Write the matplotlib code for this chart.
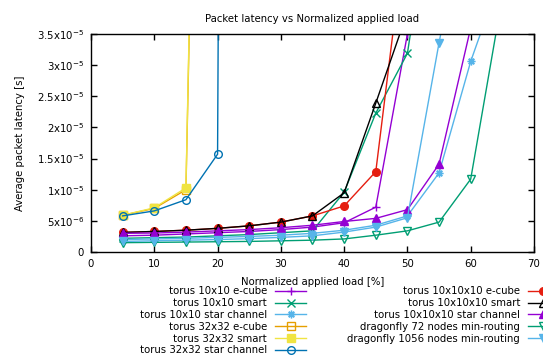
import matplotlib
matplotlib.use('Agg')
import matplotlib.pyplot as plt
from matplotlib.ticker import FixedLocator, FuncFormatter

# load values [%]
load = [5, 10, 15, 20, 25, 30, 35, 40, 45, 50, 55, 60, 65]

# latencies in units of 1e-6 s
t10_ecube = [2.6, 2.7, 2.9, 3.1, 3.3, 3.6, 4.0, 4.7, 7.2, 35.0, 80.0]
t10_smart = [2.2, 2.3, 2.4, 2.6, 2.8, 3.1, 3.4, 9.6, 22.3, 31.9, 65.0]
t10_star = [2.0, 2.1, 2.2, 2.35, 2.5, 2.7, 3.0, 3.5, 4.3, 5.8, 12.7, 30.6, 45.0]
t32_ecube = [5.9, 7.0, 10.0, 250.0]
t32_smart = [5.9, 7.1, 10.3, 260.0]
t32_star = [5.8, 6.6, 8.4, 15.7, 1000.0]
t1000_ecube = [3.15, 3.3, 3.5, 3.8, 4.2, 4.8, 5.8, 7.4, 12.9, 54.0]
t1000_smart = [3.15, 3.3, 3.5, 3.8, 4.2, 4.8, 5.8, 9.5, 23.9, 38.5]
t1000_star = [3.0, 3.05, 3.2, 3.4, 3.6, 3.9, 4.3, 4.9, 5.4, 6.8, 14.1, 36.0]
dfly72 = [1.5, 1.55, 1.6, 1.65, 1.7, 1.8, 1.9, 2.1, 2.7, 3.4, 4.8, 11.7, 41.0]
dfly1056 = [1.7, 1.8, 1.9, 2.0, 2.15, 2.35, 2.6, 3.2, 4.0, 5.5, 33.6, 60.0]

asterisk = (8, 2, 0)
series = [
    ('torus 10x10 e-cube', t10_ecube, '#9400d3', '+', 'full'),
    ('torus 10x10 smart', t10_smart, '#009e73', 'x', 'full'),
    ('torus 10x10 star channel', t10_star, '#56b4e9', asterisk, 'full'),
    ('torus 32x32 e-cube', t32_ecube, '#e69f00', 's', 'none'),
    ('torus 32x32 smart', t32_smart, '#f0e442', 's', 'full'),
    ('torus 32x32 star channel', t32_star, '#0072b2', 'o', 'none'),
    ('torus 10x10x10 e-cube', t1000_ecube, '#e51e10', 'o', 'full'),
    ('torus 10x10x10 smart', t1000_smart, 'black', '^', 'none'),
    ('torus 10x10x10 star channel', t1000_star, '#9400d3', '^', 'full'),
    ('dragonfly 72 nodes min-routing', dfly72, '#009e73', 'v', 'none'),
    ('dragonfly 1056 nodes min-routing', dfly1056, '#56b4e9', 'v', 'full'),
]

plt.rcParams['font.family'] = 'DejaVu Sans'
fs = 7.3

fig = plt.figure(figsize=(5.43, 3.61), dpi=100)
ax = fig.add_axes([0.1676, 0.3019, 0.8158, 0.6039])

for name, vals, col, mk, fill in series:
    ys = [v * 1e-6 for v in vals]
    ax.plot(load[:len(ys)], ys, color=col, marker=mk, fillstyle=fill,
            markersize=5.5, markeredgewidth=1, linewidth=1, label=name)

ax.set_xlim(0, 70)
ax.set_ylim(0, 3.5e-5)
ax.xaxis.set_major_locator(FixedLocator(range(0, 71, 10)))
ax.yaxis.set_major_locator(FixedLocator([i * 5e-6 for i in range(8)]))


def ylab(v, pos):
    if abs(v) < 1e-12:
        return '0'
    e = int(f'{v:e}'.split('e')[1])
    m = v / 10 ** e
    return f'{m:g}' + 'x10$^{' + str(e) + '}$'


ax.yaxis.set_major_formatter(FuncFormatter(ylab))
ax.tick_params(direction='in', top=True, right=True, length=4, width=1,
               labelsize=fs, pad=5)
for s in ax.spines.values():
    s.set_linewidth(1)

ax.set_title('Packet latency vs Normalized applied load', fontsize=fs, pad=9)
ax.set_xlabel('Normalized applied load [%]', fontsize=fs, labelpad=6)
ax.set_ylabel('Average packet latency [s]', fontsize=fs, labelpad=9)

fig.legend(loc='upper left', bbox_to_anchor=(0.258, 0.207), ncol=2,
           markerfirst=False, frameon=False, fontsize=fs, handlelength=3.0,
           handletextpad=0.8, columnspacing=4.1, labelspacing=0.18,
           borderaxespad=0, borderpad=0)

fig.savefig('out.png', dpi=100)
